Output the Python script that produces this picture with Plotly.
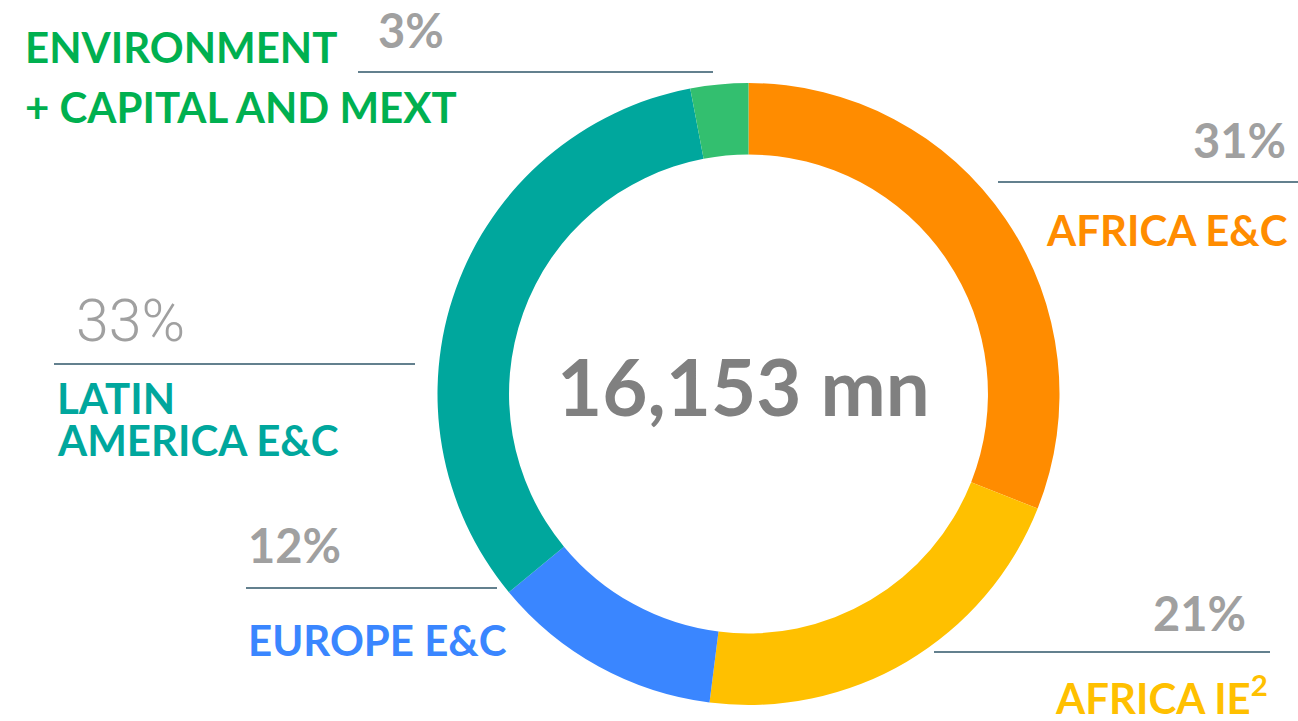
import plotly.graph_objects as go

# segment data, clockwise from 12 o'clock
segments = ["AFRICA E&C", "AFRICA IE<sup>2</sup>", "EUROPE E&C", "LATIN<br>AMERICA E&C",
            "ENVIRONMENT<br>+ CAPITAL AND MEXT"]
shares = [31, 21, 12, 33, 3]
slice_colors = ["#FF8C00", "#FFC000", "#3A86FF", "#00A79D", "#33BF6F"]
label_colors = ["#FF8C00", "#FFC000", "#3A86FF", "#00A79D", "#00B050"]
total_label = "16,153 mn"

W, H = 1298, 721
GRAY = "#A0A0A0"
RULE = "#2F5668"
FONT = "Lato, 'Open Sans', sans-serif"


def px(x):
    return x / W


def py(y):
    return 1 - y / H


fig = go.Figure(go.Pie(
    values=shares,
    labels=segments,
    marker=dict(colors=slice_colors, line=dict(width=0)),
    hole=0.77,
    sort=False,
    direction="clockwise",
    textinfo="none",
    hoverinfo="label+percent",
    domain=dict(x=[px(437), px(1060)], y=[py(705), py(83)]),
    showlegend=False,
))

# percent text (x, y, anchor, light?), label (x, line ys, anchor), rule (x0, x1, y)
callouts = [
    dict(pct=(1288, 140, "right", False), lab=(1290, [230], "right"), rule=(998, 1298, 182)),
    dict(pct=(1248, 613, "right", False), lab=(1270, [695], "right"), rule=(934, 1270, 652)),
    dict(pct=(246, 545, "left", False), lab=(246, [640], "left"), rule=(246, 497, 588)),
    dict(pct=(74, 320, "left", True), lab=(55, [398, 440], "left"), rule=(54, 415, 364)),
    dict(pct=(376, 30, "left", False), lab=(23, [47, 107], "left"), rule=(358, 713, 72)),
]

annotations = []
shapes = []
for name, share, color, c in zip(segments, shares, label_colors, callouts):
    x, y, anchor, light = c["pct"]
    annotations.append(dict(
        x=px(x), y=py(y), xref="paper", yref="paper", xanchor=anchor, yanchor="middle",
        text=f"{share}%", showarrow=False,
        font=dict(family="Roboto, sans-serif" if light else FONT, size=59 if light else 47,
                  color=GRAY, weight=300 if light else 700),
    ))
    lx, lys, lanchor = c["lab"]
    for line, ly in zip(name.split("<br>"), lys):
        annotations.append(dict(
            x=px(lx), y=py(ly), xref="paper", yref="paper", xanchor=lanchor, yanchor="middle",
            text=line, showarrow=False,
            font=dict(family=FONT, size=42, color=color, weight=700),
        ))
    x0, x1, ry = c["rule"]
    shapes.append(dict(type="line", xref="paper", yref="paper",
                       x0=px(x0), x1=px(x1), y0=py(ry), y1=py(ry),
                       line=dict(color=RULE, width=1.3)))

annotations.append(dict(
    x=px(743), y=py(386), xref="paper", yref="paper", xanchor="center", yanchor="middle",
    text=total_label, showarrow=False,
    font=dict(family=FONT, size=78, color="#808080", weight=700),
))

fig.update_layout(
    width=W, height=H,
    margin=dict(l=0, r=0, t=0, b=0),
    paper_bgcolor="white",
    plot_bgcolor="white",
    annotations=annotations,
    shapes=shapes,
)

fig.write_html("out.html", config={"displayModeBar": False},
               post_script="document.body.style.margin='0';")
